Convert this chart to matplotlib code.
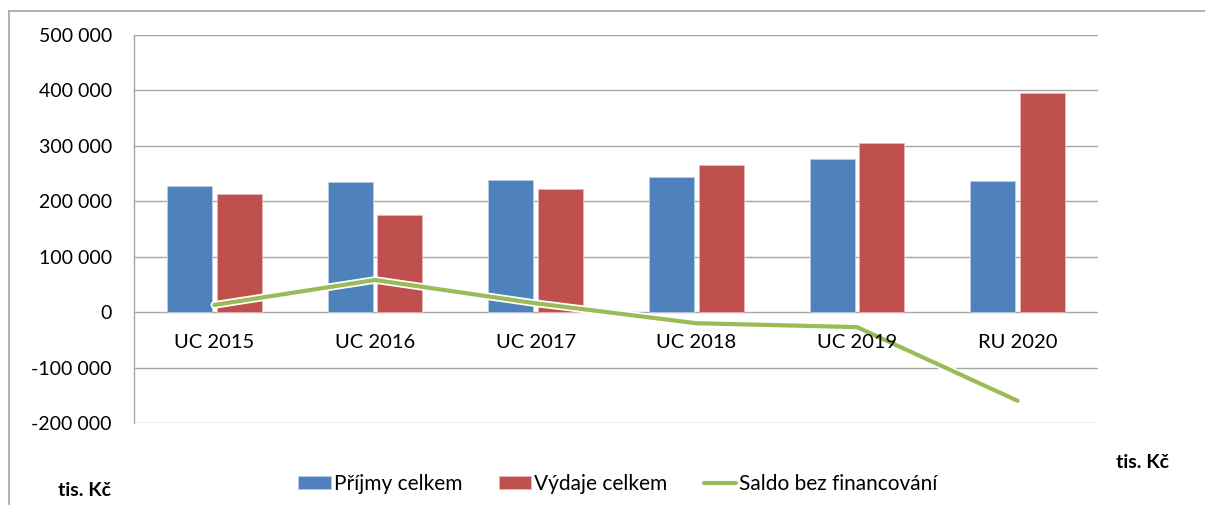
import matplotlib
matplotlib.use("Agg")
import matplotlib.pyplot as plt
import matplotlib.patheffects as pe
from matplotlib.lines import Line2D
import numpy as np

plt.rcParams['font.family'] = ['Lato', 'DejaVu Sans']

categories = ["UC 2015", "UC 2016", "UC 2017", "UC 2018", "UC 2019", "RU 2020"]
prijmy = [228000, 234000, 238000, 244000, 277000, 236500]
vydaje = [213000, 175000, 221500, 265000, 304500, 395000]
saldo = [13000, 58000, 16000, -20000, -27000, -160000]
yticks = [-200000, -100000, 0, 100000, 200000, 300000, 400000, 500000]
yticklabels = ["-200 000", "-100 000", "0", "100 000", "200 000", "300 000", "400 000", "500 000"]

W, H = 1205, 505
fig = plt.figure(figsize=(W/100, H/100), dpi=100)
ax = fig.add_axes([134/W, 1-423/H, (1098-134)/W, (423-35)/H])

x = np.arange(len(categories))
bw = 0.28
off = 0.155
ax.bar(x - off, prijmy, bw, color='#4F81BD', edgecolor='#B9CDE5', linewidth=0.6, zorder=2, label='Příjmy celkem')
ax.bar(x + off, vydaje, bw, color='#C0504D', edgecolor='#E6B9B8', linewidth=0.6, zorder=2, label='Výdaje celkem')
ax.plot(x, saldo, color='#9BBB59', linewidth=3, zorder=3, solid_joinstyle='round', solid_capstyle='round',
        path_effects=[pe.Stroke(linewidth=5.5, foreground='white'), pe.Normal()], label='Saldo bez financování')

ax.set_xlim(-0.5, len(categories) - 0.5)
ax.set_ylim(-200000, 500000)
ax.set_yticks(yticks)
ax.set_yticklabels(yticklabels, fontsize=14)
ax.tick_params(axis='y', length=0, pad=16)
ax.set_xticks([])
ax.grid(axis='y', color='#A6A6A6', linewidth=1.0, zorder=0)
ax.set_axisbelow(True)
for s in ['top', 'right', 'bottom']:
    ax.spines[s].set_visible(False)
ax.spines['left'].set_color('#A6A6A6')
ax.spines['left'].set_linewidth(1.0)

for i, c in enumerate(categories):
    ax.annotate(c, (i, 0), xytext=(0, -22), textcoords='offset points', ha='center', va='center', fontsize=14.5)

# frame
fig.add_artist(Line2D([9/W, 9/W], [0, 1-11/H], color='#A6A6A6', linewidth=1.2))
fig.add_artist(Line2D([9/W, 1], [1-11/H, 1-11/H], color='#A6A6A6', linewidth=1.2))

fig.text(85/W, 1-490/H, "tis. Kč", fontsize=14, fontweight='bold', ha='center', va='center')
fig.text(1143/W, 1-462/H, "tis. Kč", fontsize=14, fontweight='bold', ha='center', va='center')

h, l = ax.get_legend_handles_labels()
order = [1, 2, 0]
leg = fig.legend([h[i] for i in order], [l[i] for i in order], ncol=3, loc='center',
                 bbox_to_anchor=(618/W, 1-484/H), frameon=False, fontsize=15,
                 handlelength=1.55, handleheight=0.6, handletextpad=0.15, columnspacing=1.75)

fig.savefig("out.png", dpi=100)
